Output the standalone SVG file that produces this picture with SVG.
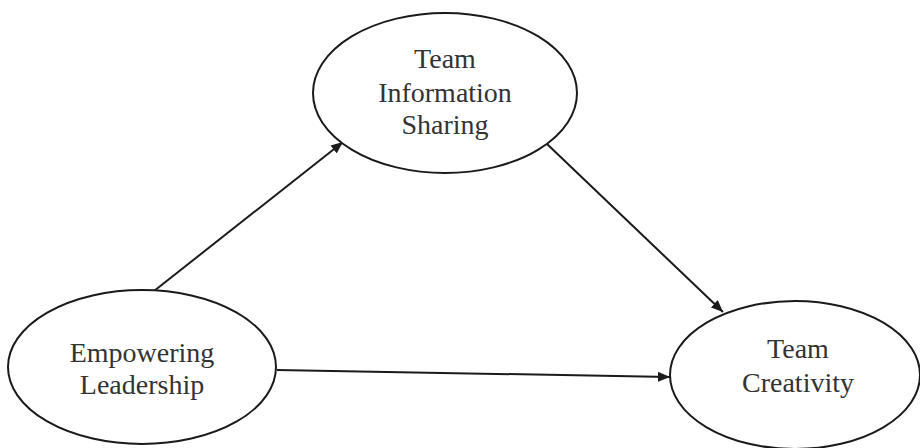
<svg xmlns="http://www.w3.org/2000/svg" width="920" height="448" viewBox="0 0 920 448">
<style>
.node ellipse{fill:#fff;stroke:#1a1a1a;stroke-width:2}
.node text{font-family:"Liberation Serif","Times New Roman",serif;font-size:28px;fill:#333;text-anchor:middle}
.conn line{stroke:#1a1a1a;stroke-width:2;marker-end:url(#ah)}
</style>
<defs>
<marker id="ah" viewBox="0 0 12 10" refX="12" refY="5" markerWidth="12" markerHeight="10" markerUnits="userSpaceOnUse" orient="auto">
<path d="M0,0 L12,5 L0,10 Z" fill="#1a1a1a"/>
</marker>
</defs>
<rect width="920" height="448" fill="#fff"/>
<g id="connectors" class="conn">
<line x1="154" y1="291" x2="343" y2="142"/>
<line x1="547" y1="144" x2="723" y2="312"/>
<line x1="277" y1="370" x2="670" y2="377"/>
</g>
<g id="info" class="node">
<ellipse cx="445" cy="93" rx="132" ry="80"/>
<text x="445" y="68">Team</text>
<text x="445" y="102">Information</text>
<text x="445" y="134">Sharing</text>
</g>
<g id="empowering" class="node">
<ellipse cx="142" cy="367" rx="134" ry="77"/>
<text x="142" y="362">Empowering</text>
<text x="142" y="394">Leadership</text>
</g>
<g id="creativity" class="node">
<ellipse cx="795" cy="375" rx="125" ry="74"/>
<text x="798" y="358">Team</text>
<text x="798" y="392">Creativity</text>
</g>
</svg>
